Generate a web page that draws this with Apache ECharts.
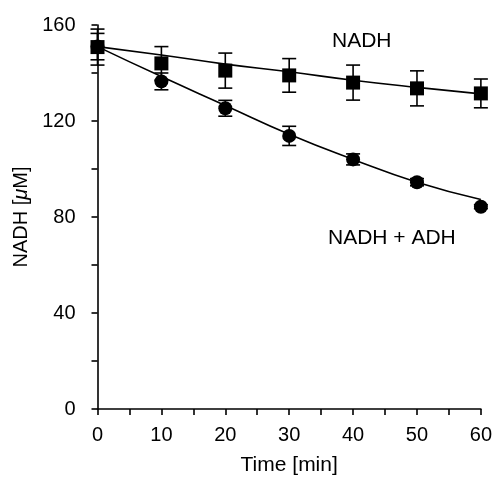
<!DOCTYPE html>
<html>
<head>
<meta charset="utf-8">
<script src="https://cdn.jsdelivr.net/npm/echarts@6/dist/echarts.min.js"></script>
<style>
html,body{margin:0;padding:0;background:#fff;}
#c{width:495px;height:482px;}
</style>
</head>
<body>
<div id="c"></div>
<script>
const times = [0, 10, 20, 30, 40, 50, 60];
// NADH alone (squares)
const nadhVals = [150.8, 144, 141, 139, 136, 133.6, 131.5];
const nadhErr  = [7.5, 7, 7.3, 7, 7.3, 7.3, 6];
const nadhFit  = [151, 147.5, 143.7, 140.5, 137, 134, 131.3];
// NADH + ADH (circles)
const adhVals = [151, 136.5, 125.3, 113.8, 104, 94.5, 84.3];
const adhErr  = [5.5, 3.5, 3.3, 4, 2.3, 1.5, 0.8];
const adhFit  = [151, 138.5, 126.5, 114.5, 104, 94.5, 87.3];
const xTicks = [0, 10, 20, 30, 40, 50, 60];
const yTicks = [0, 40, 80, 120, 160];

const FONT = 'Liberation Sans';
const pts = (a) => times.map((t, i) => [t, a[i]]);
const errPts = (v, e) => times.map((t, i) => [t, v[i], e[i]]);

function errRender(params, api) {
  const x = api.value(0), y = api.value(1), e = api.value(2);
  const top = api.coord([x, y + e]);
  const bot = api.coord([x, y - e]);
  const h = 7;
  const st = { stroke: '#000', lineWidth: 1.6 };
  return {
    type: 'group',
    children: [
      { type: 'line', shape: { x1: top[0], y1: top[1], x2: bot[0], y2: bot[1] }, style: st },
      { type: 'line', shape: { x1: top[0] - h, y1: top[1], x2: top[0] + h, y2: top[1] }, style: st },
      { type: 'line', shape: { x1: bot[0] - h, y1: bot[1], x2: bot[0] + h, y2: bot[1] }, style: st }
    ]
  };
}

const chart = echarts.init(document.getElementById('c'), null, { renderer: 'canvas' });
const axisCommon = {
  axisLine: { show: true, lineStyle: { color: '#000', width: 1.6 } },
  axisTick: { show: true, inside: false, length: 6, lineStyle: { color: '#000', width: 1.6 } },
  minorTick: { show: true, splitNumber: 2, length: 6, lineStyle: { color: '#000', width: 1.6 } },
  splitLine: { show: false },
  minorSplitLine: { show: false }
};
chart.setOption({
  animation: false,
  backgroundColor: '#fff',
  grid: { left: 97.5, right: 10, top: 25, bottom: 73, containLabel: false },
  xAxis: Object.assign({
    type: 'value', min: xTicks[0], max: xTicks[xTicks.length - 1], interval: 10,
    name: 'Time [min]', nameLocation: 'middle', nameGap: 46,
    nameTextStyle: { fontFamily: FONT, fontSize: 21, color: '#000' },
    axisLabel: { fontFamily: FONT, fontSize: 20, color: '#000', margin: 16 }
  }, axisCommon),
  yAxis: Object.assign({
    type: 'value', min: yTicks[0], max: yTicks[yTicks.length - 1], interval: 40,
    name: '{a|NADH [}{b|μ}{a|M]}', nameLocation: 'middle', nameGap: 66,
    nameTextStyle: {
      rich: {
        a: { fontFamily: FONT, fontSize: 20, color: '#000' },
        b: { fontFamily: FONT, fontSize: 20, color: '#000', fontStyle: 'italic' }
      }
    },
    axisLabel: { fontFamily: FONT, fontSize: 20, color: '#000', margin: 22 }
  }, axisCommon),
  graphic: [
    { type: 'text', left: 332, top: 31, style: { text: 'NADH', font: '21px "Liberation Sans"', fill: '#000' } },
    { type: 'text', left: 328, top: 228, style: { text: 'NADH + ADH', font: '21px "Liberation Sans"', fill: '#000' } }
  ],
  series: [
    { type: 'line', data: pts(nadhFit), smooth: true, symbol: 'none', lineStyle: { color: '#000', width: 1.6 }, z: 2 },
    { type: 'line', data: pts(adhFit), smooth: true, symbol: 'none', lineStyle: { color: '#000', width: 1.6 }, z: 2 },
    { type: 'custom', data: errPts(nadhVals, nadhErr), renderItem: errRender, z: 3 },
    { type: 'custom', data: errPts(adhVals, adhErr), renderItem: errRender, z: 3 },
    { type: 'scatter', data: pts(nadhVals), symbol: 'rect', symbolSize: 14, itemStyle: { color: '#000', opacity: 1 }, emphasis: { disabled: true }, z: 4 },
    { type: 'scatter', data: pts(adhVals), symbol: 'circle', symbolSize: 14, itemStyle: { color: '#000', opacity: 1 }, emphasis: { disabled: true }, z: 4 }
  ]
});
</script>
</body>
</html>
